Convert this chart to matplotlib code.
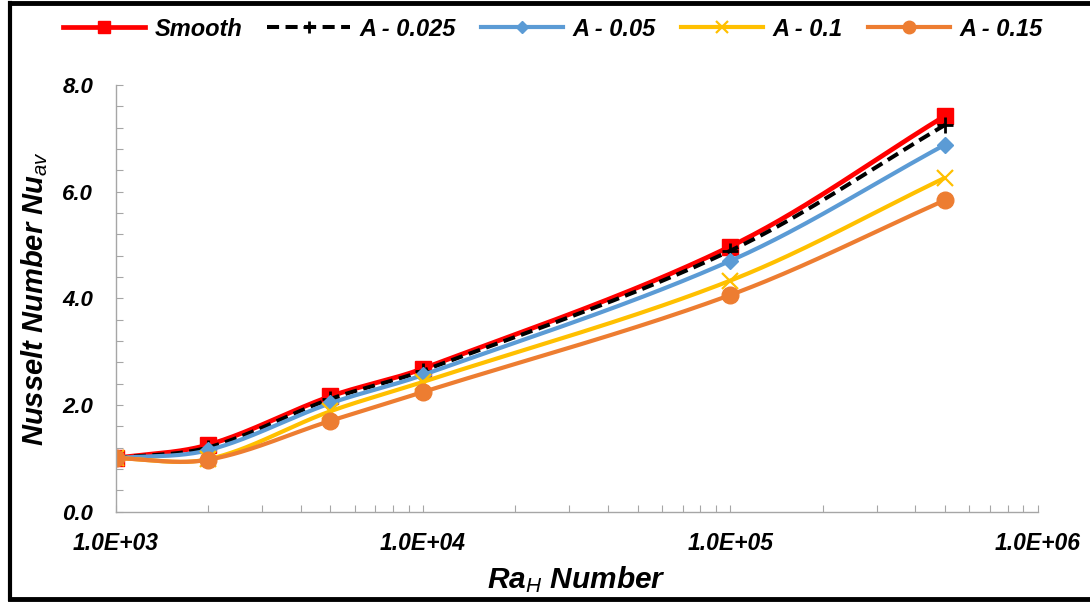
import numpy as np
import matplotlib
matplotlib.use('Agg')
import matplotlib.pyplot as plt
from matplotlib.lines import Line2D
from matplotlib.ticker import FixedLocator, FuncFormatter, LogLocator, MultipleLocator

plt.rcParams['font.family'] = ['Liberation Sans', 'DejaVu Sans']
plt.rcParams['mathtext.fontset'] = 'custom'
plt.rcParams['mathtext.it'] = 'Liberation Sans:italic'
plt.rcParams['mathtext.rm'] = 'Liberation Sans:italic'

# data
Ra = [1e3, 2e3, 5e3, 1e4, 1e5, 5e5]
nu_smooth = [1.00, 1.25, 2.16, 2.68, 4.97, 7.42]
nu_a025 = [1.00, 1.20, 2.11, 2.64, 4.89, 7.25]
nu_a05 = [1.00, 1.15, 2.03, 2.56, 4.70, 6.88]
nu_a10 = [1.00, 0.98, 1.88, 2.43, 4.33, 6.26]
nu_a15 = [1.00, 0.97, 1.70, 2.24, 4.06, 5.84]
labels = ['Smooth', 'A - 0.025', 'A - 0.05', 'A - 0.1', 'A - 0.15']
xticks = [1e3, 1e4, 1e5, 1e6]
yticks = [0, 2, 4, 6, 8]

W, H = 1090, 603
L, R, T, B = 115.5, 1037.5, 85.0, 511.5   # plot box in pixels
px_dec = (R - L) / 3.0                    # pixels per decade
px_unit = (B - T) / 8.0                   # pixels per Nu unit


def smooth_curve(x, y, n=50):
    # excel-like smoothing: bezier through points, chord-length tangents in screen space
    P = np.column_stack([np.log10(np.asarray(x, float)) * px_dec, np.asarray(y, float) * px_unit])
    m = len(P)
    d = np.hypot(*np.diff(P, axis=0).T)
    D = np.zeros_like(P)
    for i in range(m):
        a = max(i - 1, 0)
        b = min(i + 1, m - 1)
        D[i] = (P[b] - P[a]) / d[a:b].sum()
    out = []
    t = np.linspace(0, 1, n)[:, None]
    for i in range(m - 1):
        p1, p2 = P[i], P[i + 1]
        c1 = p1 + D[i] * d[i] / 3.0
        c2 = p2 - D[i + 1] * d[i] / 3.0
        seg = (1 - t) ** 3 * p1 + 3 * (1 - t) ** 2 * t * c1 + 3 * (1 - t) * t ** 2 * c2 + t ** 3 * p2
        out.append(seg if i == 0 else seg[1:])
    out = np.vstack(out)
    return 10 ** (out[:, 0] / px_dec), out[:, 1] / px_unit


fig = plt.figure(figsize=(W / 100, H / 100), dpi=100)
fig.patch.set_facecolor('white')
ax = fig.add_axes([L / W, 1 - B / H, (R - L) / W, (B - T) / H])

series = [
    (nu_smooth, dict(color='#FF0000', lw=3.4, marker='s', ms=12)),
    (nu_a025, dict(color='black', lw=2.9, ls=(0, (3, 1.6)), marker='+', ms=12, mew=2)),
    (nu_a05, dict(color='#5B9BD5', lw=3.0, marker='D', ms=8)),
    (nu_a10, dict(color='#FFC000', lw=3.0, marker='x', ms=11, mew=1.6)),
    (nu_a15, dict(color='#ED7D31', lw=3.0, marker='o', ms=12)),
]

handles = []
for (vals, st), lab in zip(series, labels):
    xs, ys = smooth_curve(Ra, vals)
    ax.plot(xs, ys, ls=st.get('ls', '-'), color=st['color'], lw=st['lw'], solid_capstyle='butt')
    ax.plot(Ra, vals, ls='none', marker=st['marker'], ms=st['ms'], mew=st.get('mew', 1),
            color=st['color'], mec=st['color'])
    handles.append(Line2D([], [], color=st['color'], lw=st['lw'], ls=st.get('ls', '-'),
                          marker=st['marker'], ms=st['ms'] * 0.75, mew=st.get('mew', 1)))

ax.set_xscale('log')
ax.set_xlim(1e3, 1e6)
ax.set_ylim(0, 8)
ax.xaxis.set_major_locator(FixedLocator(xticks))
ax.xaxis.set_minor_locator(LogLocator(base=10, subs=np.arange(2, 10)))
ax.xaxis.set_major_formatter(FuncFormatter(lambda v, p: '%.1E' % v))
ax.xaxis.set_minor_formatter(FuncFormatter(lambda v, p: ''))
ax.yaxis.set_major_locator(FixedLocator(yticks))
ax.yaxis.set_minor_locator(MultipleLocator(0.4))
ax.yaxis.set_major_formatter(FuncFormatter(lambda v, p: '%.1f' % v))

gray = '#A6A6A6'
for s in ['top', 'right']:
    ax.spines[s].set_visible(False)
for s in ['left', 'bottom']:
    ax.spines[s].set_color(gray)
    ax.spines[s].set_linewidth(1.0)
ax.tick_params(which='both', direction='in', length=5, width=0.8, color=gray)
ax.tick_params(axis='y', which='major', pad=16, labelsize=16)
ax.tick_params(axis='x', which='major', pad=15, labelsize=16.5)
for t in ax.get_xticklabels() + ax.get_yticklabels():
    t.set_fontweight('bold')
    t.set_fontstyle('italic')

ax.set_xlabel(r'Ra$_{H}$ Number', fontsize=21.5, fontweight='bold', fontstyle='italic')
ax.xaxis.set_label_coords(0.5, (B - 588) / (B - T), transform=ax.transAxes)
ax.xaxis.label.set_va('baseline')
ax.set_ylabel(r'Nusselt Number Nu$_{av}$', fontsize=21, fontweight='bold', fontstyle='italic')
ax.yaxis.set_label_coords((35 - L) / (R - L), 0.5)
ax.yaxis.label.set_va('center')

leg = fig.legend(handles, labels, loc='center', bbox_to_anchor=(553 / W, 1 - 29 / H), ncol=5,
                 frameon=False, handlelength=3.5, handletextpad=0.4, columnspacing=1.05,
                 prop=dict(family='Liberation Sans', weight='bold', style='italic', size=17))

# black frame around the chart (left, top, bottom)
fig.add_artist(Line2D([9.5 / W, 9.5 / W], [1 - 2.5 / H, 1 - 599 / H], color='black', lw=3,
                      transform=fig.transFigure))
fig.add_artist(Line2D([9.5 / W, 1], [1 - 2.5 / H, 1 - 2.5 / H], color='black', lw=3.5,
                      transform=fig.transFigure))
fig.add_artist(Line2D([9.5 / W, 1], [1 - 599 / H, 1 - 599 / H], color='black', lw=3.5,
                      transform=fig.transFigure))

fig.savefig('out.png', dpi=100, facecolor='white')
